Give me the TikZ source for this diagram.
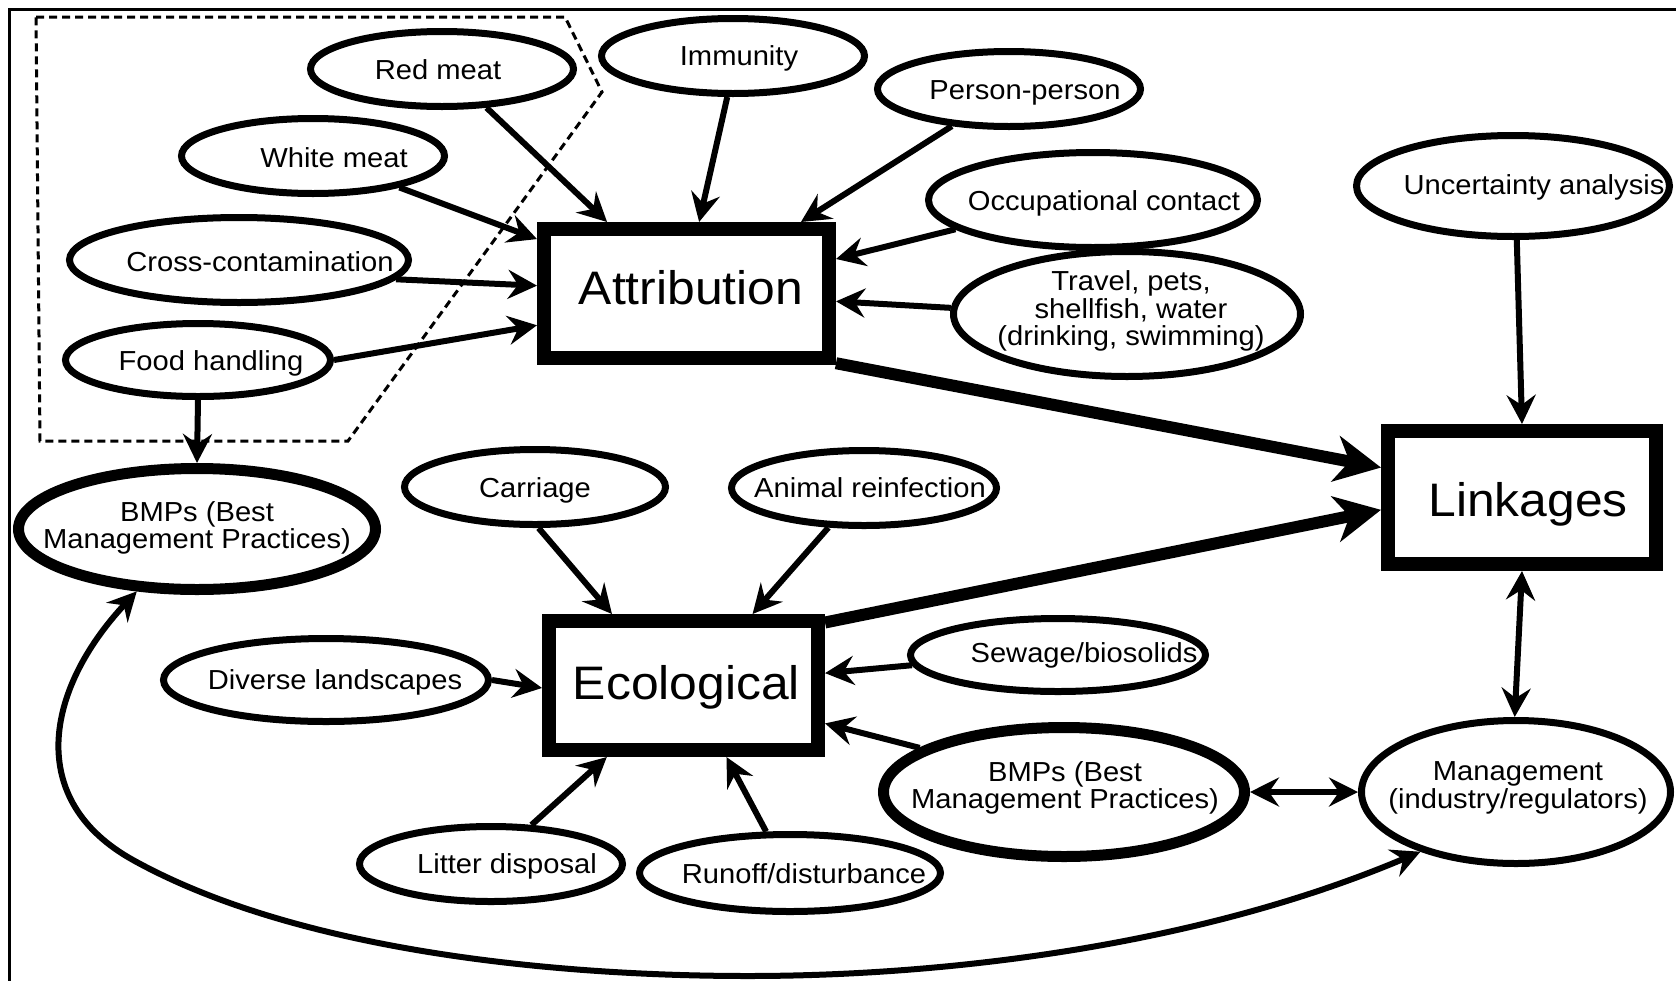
\documentclass[tikz,border=0pt]{standalone}
\usepackage{fontspec}
\setmainfont{Liberation Sans}[FakeStretch=1.06]
\usetikzlibrary{arrows.meta,shapes.geometric}
\tikzset{
  ell/.style={ellipse, draw, line width=3.5pt, inner sep=0pt},
  thickell/.style={ellipse, draw, line width=5.5pt, inner sep=0pt},
  bx/.style={rectangle, draw, line width=7pt, inner sep=0pt},
  lbl/.style={inner sep=0pt, align=center, font=\fontsize{13.75pt}{13.8pt}\selectfont},
  lblb/.style={lbl, anchor=base},
  big/.style={inner sep=0pt, anchor=base, font=\fontsize{23.5pt}{28pt}\selectfont},
  tip/.tip={Stealth[length=14.5pt,width=14.5pt,inset=5pt]},
  bigtip/.tip={Stealth[length=23pt,width=23pt,inset=7pt]},
  arr/.style={line width=3pt, -tip},
  darr/.style={line width=3pt, tip-tip},
  tarr/.style={line width=6pt, -bigtip},
  frameline/.style={line width=1.5pt},
  dashbox/.style={line width=1.5pt, dash pattern=on 4pt off 2.5pt},
}
\begin{document}
\begin{tikzpicture}[x=0.5pt,y=-0.5pt]
\useasboundingbox (0,0) rectangle (1676,980);
\draw[frameline] (9,982) -- (9,9) -- (1678,9);
\draw[dashbox] (36,17) -- (565,17) -- (602,92) -- (348,441) -- (40,441) -- cycle;

% boxes
\node[bx, minimum width=142.5pt, minimum height=64.5pt] (at) at (686.5,293.5) {};
\node[bx, minimum width=134pt, minimum height=66.5pt] (lk) at (1522,497.5) {};
\node[bx, minimum width=134.5pt, minimum height=64.5pt] (ec) at (683.5,685.5) {};
\node[big] (att) at (691,304) {Attribution};
\node[big] (lkt) at (1528,516) {Linkages};
\node[big] (ect) at (686.5,699) {Ecological};

% ellipses
\node[ell, minimum width=131.5pt, minimum height=37.5pt] (rm) at (442,69) {};
\node[ell, minimum width=131.5pt, minimum height=37.5pt] (wm) at (313,156) {};
\node[ell, minimum width=169.5pt, minimum height=42.5pt] (cc) at (239,260) {};
\node[ell, minimum width=132.5pt, minimum height=36.5pt] (fh) at (198,360) {};
\node[ell, minimum width=131.5pt, minimum height=37.5pt] (im) at (733,56) {};
\node[ell, minimum width=131.5pt, minimum height=37.5pt] (pp) at (1009,89) {};
\node[ell, minimum width=164.5pt, minimum height=47.5pt] (oc) at (1093,200) {};
\node[ell, minimum width=173.5pt, minimum height=62.5pt] (tr) at (1127,314) {};
\node[ell, minimum width=156.5pt, minimum height=50.5pt] (ua) at (1513,186) {};
\node[ell, minimum width=130.5pt, minimum height=37.5pt] (ca) at (535,487) {};
\node[ell, minimum width=132.5pt, minimum height=37.5pt] (ar) at (864,488) {};
\node[ell, minimum width=162.5pt, minimum height=41.5pt] (dl) at (326,680) {};
\node[ell, minimum width=147.5pt, minimum height=36.5pt] (sw) at (1058,655) {};
\node[ell, minimum width=154.5pt, minimum height=71.5pt] (mg) at (1516,792) {};
\node[ell, minimum width=131.5pt, minimum height=37.5pt] (ld) at (491,864) {};
\node[ell, minimum width=150.5pt, minimum height=38.5pt] (ro) at (790,873) {};
\node[thickell, minimum width=178.5pt, minimum height=60.5pt] (bl) at (197,529) {};
\node[thickell, minimum width=180.5pt, minimum height=64.5pt] (br) at (1064,792) {};

% texts
\node[lblb] (rmt) at (438,79) {Red meat};
\node[lblb] (wmt) at (334,167) {White meat};
\node[lblb] (cct) at (260,271) {Cross-contamination};
\node[lblb] (fht) at (211,370) {Food handling};
\node[lblb] (imt) at (739,65) {Immunity};
\node[lblb] (ppt) at (1025,99) {Person-person};
\node[lblb] (oct) at (1104,210) {Occupational contact};
\node[lbl] (trt) at (1131,311) {Travel, pets,\\shellfish, water\\(drinking, swimming)};
\node[lblb] (uat) at (1534,194) {Uncertainty analysis};
\node[lblb] (cat) at (535,497) {Carriage};
\node[lblb] (art) at (870,497) {Animal reinfection};
\node[lblb] (dlt) at (335,689) {Diverse landscapes};
\node[lblb] (swt) at (1084,662) {Sewage/biosolids};
\node[lbl] (mgt) at (1518,788) {Management\\(industry/regulators)};
\node[lblb] (ldt) at (507,873) {Litter disposal};
\node[lblb] (rot) at (804,883) {Runoff/disturbance};
\node[lbl] (blt) at (197,528) {BMPs (Best\\Management Practices)};
\node[lbl] (brt) at (1065,788) {BMPs (Best\\Management Practices)};

% connectors into Attribution
\draw[arr] (rm.319) -- (at.138);
\draw[arr] (wm.340) -- (at.160);
\draw[arr] (cc.353) -- (at.177);
\draw[arr] (fh.0) -- (at.192);
\draw[arr] (im.262) -- (at.80);
\draw[arr] (pp.213) -- (at.32);
\draw[arr] (oc.192) -- (at.13);
\draw[arr] (tr.178) -- (at.357);
% into Linkages
\draw[tarr] (at.335) -- (lk.168);
\draw[tarr] (ec.24) -- (lk.185);
\draw[arr] (ua.274) -- (lk.90);
\draw[darr] (lk.270) -- (mg.91);
\draw[darr] (br.east) -- (mg.west);
% food handling to BMPs
\draw[arr] (fh.south) -- (bl.north);
% into Ecological
\draw[arr] (ca.275) -- (ec.135);
\draw[arr] (ar.228) -- (ec.46);
\draw[arr] (dl.east) -- (ec.181);
\draw[arr] (sw.184) -- (ec.5);
\draw[arr] (br.163) -- (ec.345);
\draw[arr] (ld.44) -- (ec.223);
\draw[arr] (ro.120) -- (ec.301);
% long curve
\draw[darr] (bl.226) .. controls (45,690) and (25,800) .. (133,860)
  .. controls (295,950) and (550,976) .. (748,976)
  .. controls (950,976) and (1200,945) .. (mg.212);
\end{tikzpicture}
\end{document}
